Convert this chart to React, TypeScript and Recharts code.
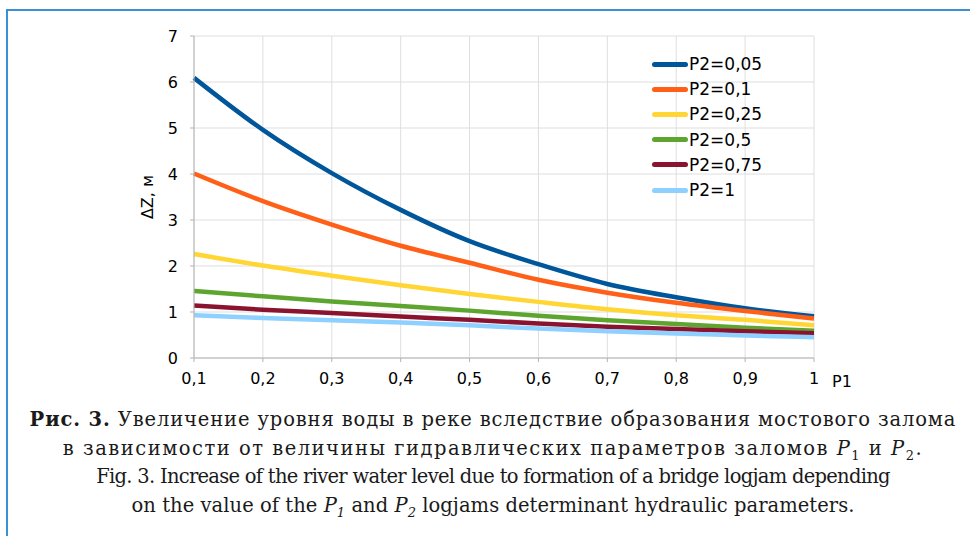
import React from "react";
import { LineChart, Line, XAxis, YAxis, CartesianGrid, Label } from "recharts";

const p1 = [0.1, 0.2, 0.3, 0.4, 0.5, 0.6, 0.7, 0.8, 0.9, 1];
const p2_005 = [6.09, 4.96, 4.02, 3.22, 2.54, 2.04, 1.61, 1.32, 1.08, 0.91];
const p2_01 = [4.01, 3.41, 2.9, 2.44, 2.07, 1.7, 1.42, 1.2, 1.02, 0.86];
const p2_025 = [2.26, 2.01, 1.79, 1.58, 1.39, 1.22, 1.06, 0.93, 0.83, 0.71];
const p2_05 = [1.46, 1.34, 1.23, 1.13, 1.03, 0.92, 0.82, 0.74, 0.66, 0.59];
const p2_075 = [1.14, 1.05, 0.98, 0.9, 0.83, 0.75, 0.68, 0.63, 0.58, 0.54];
const p2_1 = [0.93, 0.87, 0.82, 0.77, 0.71, 0.64, 0.58, 0.53, 0.49, 0.45];

const seriesNames = ["P2=0,05", "P2=0,1", "P2=0,25", "P2=0,5", "P2=0,75", "P2=1"];
const seriesValues = [p2_005, p2_01, p2_025, p2_05, p2_075, p2_1];
const colors = ["#00569a", "#ff5f17", "#ffd633", "#5ea530", "#8a1430", "#8ed0ff"];
const yTicks = [0, 1, 2, 3, 4, 5, 6, 7];

const data = p1.map((x, i) => {
  const row: Record<string, number> = { p1: x };
  seriesNames.forEach((name, s) => {
    row[name] = seriesValues[s][i];
  });
  return row;
});

const fmt = (v: number) => String(v).replace(".", ",");

// legend drawn over the plot, like the spreadsheet original
const LegendBox = () => (
  <div style={{ position: "absolute", left: 652, top: 51.5, fontFamily: "DejaVu Sans", fontSize: 17, color: "#000" }}>
    {seriesNames.map((name, i) => (
      <div key={name} style={{ display: "flex", alignItems: "center", height: 25.2 }}>
        <div style={{ width: 36, height: 5, borderRadius: 3, background: colors[i], marginRight: 1 }} />
        <span>{name}</span>
      </div>
    ))}
  </div>
);

const line = (spacing: number): React.CSSProperties => ({
  textAlign: "center",
  whiteSpace: "nowrap",
  height: 28.5,
  lineHeight: "28.5px",
  letterSpacing: spacing,
});

const Sub = ({ children }: { children: React.ReactNode }) => (
  <span style={{ fontSize: 13, position: "relative", top: 5 }}>{children}</span>
);

export default function App() {
  return (
    <div style={{ position: "absolute", left: 0, top: 0, width: 970, height: 536, background: "#fff", overflow: "hidden" }}>
      <div
        style={{
          position: "absolute",
          left: 6,
          top: 9,
          width: 980,
          height: 540,
          borderTop: "2px solid #3a91d2",
          borderLeft: "2px solid #3a91d2",
        }}
      />
      <div style={{ position: "absolute", left: 0, top: 0 }}>
        <LineChart width={970} height={400} data={data} margin={{ top: 36, right: 156, bottom: 2, left: 0 }}>
          <CartesianGrid stroke="#dedede" strokeWidth={1} />
          <XAxis
            dataKey="p1"
            type="number"
            domain={[0.1, 1]}
            ticks={p1}
            tickFormatter={fmt}
            height={40}
            stroke="#b3b3b3"
            tickSize={4}
            tickMargin={11}
            tick={{ fill: "#000", fontFamily: "DejaVu Sans", fontSize: 16 }}
          >
            <Label value="P1" position="right" offset={18} dy={3} style={{ fill: "#000", fontFamily: "DejaVu Sans", fontSize: 16 }} />
          </XAxis>
          <YAxis
            type="number"
            domain={[0, 7]}
            ticks={yTicks}
            width={194}
            stroke="#b3b3b3"
            tickSize={4}
            tickMargin={12}
            tick={{ fill: "#000", fontFamily: "DejaVu Sans", fontSize: 16 }}
          >
            <Label
              value="ΔZ, м"
              angle={-90}
              position="center"
              dx={50}
              style={{ fill: "#000", fontFamily: "DejaVu Sans", fontSize: 16, textAnchor: "middle" }}
            />
          </YAxis>
          {seriesNames.map((name, i) => (
            <Line
              key={name}
              type="monotone"
              dataKey={name}
              stroke={colors[i]}
              strokeWidth={4.5}
              dot={false}
              activeDot={false}
              isAnimationActive={false}
            />
          ))}
        </LineChart>
      </div>
      <LegendBox />
      <div
        style={{
          position: "absolute",
          left: 0,
          top: 406,
          width: 986,
          fontFamily: "DejaVu Serif",
          fontSize: 19.5,
          color: "#1a1a1a",
        }}
      >
        <div style={line(0.87)}>
          <b>Рис. 3.</b> Увеличение уровня воды в реке вследствие образования мостового залома
        </div>
        <div style={line(1.5)}>
          в зависимости от величины гидравлических параметров заломов <i>P</i>
          <Sub>1</Sub> и <i>P</i>
          <Sub>2</Sub>.
        </div>
        <div style={line(-0.72)}>
          Fig. 3. Increase of the river water level due to formation of a bridge logjam depending
        </div>
        <div style={line(0.05)}>
          on the value of the <i>P</i>
          <Sub><i>1</i></Sub> and <i>P</i>
          <Sub><i>2</i></Sub> logjams determinant hydraulic parameters.
        </div>
      </div>
    </div>
  );
}
